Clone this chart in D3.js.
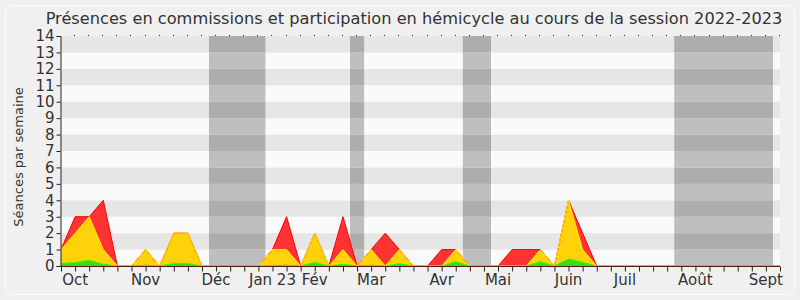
<!DOCTYPE html>
<html>
<head>
<meta charset="utf-8">
<script src="https://cdn.jsdelivr.net/npm/d3@7"></script>
<style>
  body { margin: 0; background: #f0f0f0; }
  svg { display: block; font-family: "DejaVu Sans", sans-serif; }
</style>
</head>
<body>
<svg id="chart" width="800" height="300"></svg>
<script>
// weekly values, one per week of the session (Sept 2022 -> Sept 2023)
const weeks = d3.range(52);
const presences = [1, 3, 3, 4, 0, 0, 1, 0, 2, 2, 0, 0, 0, 0, 0, 1, 3, 0, 2, 0, 3, 0, 1, 2, 1, 0,
  0, 1, 1, 0, 0, 0, 1, 1, 1, 0, 4, 2, 0, 0, 0, 0, 0, 0, 0, 0, 0, 0, 0, 0, 0, 0];
const hemicycle = [1, 2, 3, 1, 0, 0, 1, 0, 2, 2, 0, 0, 0, 0, 0, 1, 1, 0, 2, 0, 1, 0, 1, 0, 1, 0,
  0, 0, 1, 0, 0, 0, 0, 0, 1, 0, 4, 1, 0, 0, 0, 0, 0, 0, 0, 0, 0, 0, 0, 0, 0, 0];
const interventions = [0.15, 0.2, 0.35, 0.1, 0, 0, 0.05, 0, 0.15, 0.15, 0, 0, 0, 0, 0, 0.03, 0.05, 0, 0.22, 0, 0.1, 0, 0.05, 0, 0.14, 0,
  0, 0, 0.26, 0, 0, 0, 0, 0, 0.26, 0, 0.42, 0.22, 0, 0, 0, 0, 0, 0, 0, 0, 0, 0, 0, 0, 0, 0];
// parliamentary holidays, in week units
const vacances = [[10.5, 14.5], [20.5, 21.5], [28.5, 30.5], [43.5, 50.5]];
const monthLabels = ["Oct", "Nov", "Déc", "Jan 23", "Fév", "Mar", "Avr", "Mai", "Juin", "Juil", "Août", "Sept"];
const monthWeeks = [1, 6, 11, 15, 18, 22, 27, 31, 36, 40, 45, 50];
const yTicks = d3.range(0, 15);

const svg = d3.select('#chart');
const plotLeft = 61, plotRight = 780, plotTop = 36, plotBottom = 266;

const x = d3.scaleLinear().domain([0, 51]).range([plotLeft, plotRight]);
const y = d3.scaleLinear().domain([0, 14]).range([plotBottom, plotTop]);

// frame
svg.append('rect')
  .attr('x', 5.5).attr('y', 5.5).attr('width', 789).attr('height', 289)
  .attr('rx', 6).attr('fill', '#f0f0f0').attr('stroke', '#fbfbfb');

// alternating row stripes
svg.append('g').selectAll('rect')
  .data(d3.range(0, 14))
  .join('rect')
  .attr('x', plotLeft).attr('width', plotRight - plotLeft)
  .attr('y', d => y(d + 1)).attr('height', d => y(d) - y(d + 1))
  .attr('fill', d => d % 2 ? '#e6e6e6' : '#fafafa');

// holidays, with their own stripes
const vg = svg.append('g');
vacances.forEach(v => {
  vg.append('g').selectAll('rect')
    .data(d3.range(0, 14))
    .join('rect')
    .attr('x', x(v[0])).attr('width', x(v[1]) - x(v[0]))
    .attr('y', d => y(d + 1)).attr('height', d => y(d) - y(d + 1))
    .attr('fill', d => d % 2 ? '#adadad' : '#bebebe');
});

// series areas, drawn largest first
const series = [
  { values: presences, fill: '#ff3333', stroke: '#ff0000' },
  { values: hemicycle, fill: '#ffd20a', stroke: '#ffee00' },
  { values: interventions, fill: '#33e010', stroke: '#22ff00' }
];

const area = d3.area().x(i => x(i)).y0(y(0));
const line = d3.line().x(i => x(i));

series.forEach(s => {
  svg.append('path')
    .datum(weeks)
    .attr('d', area.y1(i => y(s.values[i])))
    .attr('fill', s.fill);
});
series.forEach(s => {
  svg.append('path')
    .datum(weeks)
    .attr('d', line.y(i => y(s.values[i])))
    .attr('fill', 'none')
    .attr('stroke', s.stroke)
    .attr('stroke-width', 1);
});
// baseline
svg.append('line')
  .attr('x1', plotLeft).attr('x2', plotRight).attr('y1', plotBottom + 0.5).attr('y2', plotBottom + 0.5)
  .attr('stroke', '#5a1a10');

// y axis
const yAxis = svg.append('g')
  .attr('transform', `translate(${plotLeft - 0.5},0)`)
  .call(d3.axisLeft(y).tickValues(yTicks).tickSize(4).tickPadding(2).tickFormat(d3.format('d')));
yAxis.select('.domain').attr('stroke', '#222');
yAxis.selectAll('.tick line').attr('stroke', '#222');
yAxis.selectAll('text').attr('font-size', 15).attr('fill', '#333')
  .attr('font-family', '"DejaVu Sans", sans-serif');

// x axis: week ticks
const xAxis = svg.append('g')
  .attr('transform', `translate(0,${plotBottom + 0.5})`)
  .call(d3.axisBottom(x).tickValues(weeks).tickSize(5).tickFormat(''));
xAxis.select('.domain').remove();
xAxis.selectAll('.tick line').attr('stroke', '#222');

// top dotted ticks
svg.append('g').selectAll('rect')
  .data(weeks.slice(1))
  .join('rect')
  .attr('x', i => Math.round(x(i)) - 1).attr('y', plotTop - 1)
  .attr('width', 1).attr('height', 1).attr('fill', '#222');

// month labels
svg.append('g').selectAll('text')
  .data(monthLabels)
  .join('text')
  .attr('x', (d, i) => x(monthWeeks[i]))
  .attr('y', 285)
  .attr('text-anchor', 'middle')
  .attr('font-size', 15)
  .attr('fill', '#333')
  .text(d => d);

// title
svg.append('text')
  .attr('x', 414).attr('y', 24)
  .attr('text-anchor', 'middle')
  .attr('font-size', 16.2)
  .attr('fill', '#333')
  .text('Présences en commissions et participation en hémicycle au cours de la session 2022-2023');

// y label
svg.append('text')
  .attr('transform', `translate(23,${(plotTop + plotBottom) / 2 + 6}) rotate(-90)`)
  .attr('text-anchor', 'middle')
  .attr('font-size', 13)
  .attr('fill', '#333')
  .text('Séances par semaine');
</script>
</body>
</html>
